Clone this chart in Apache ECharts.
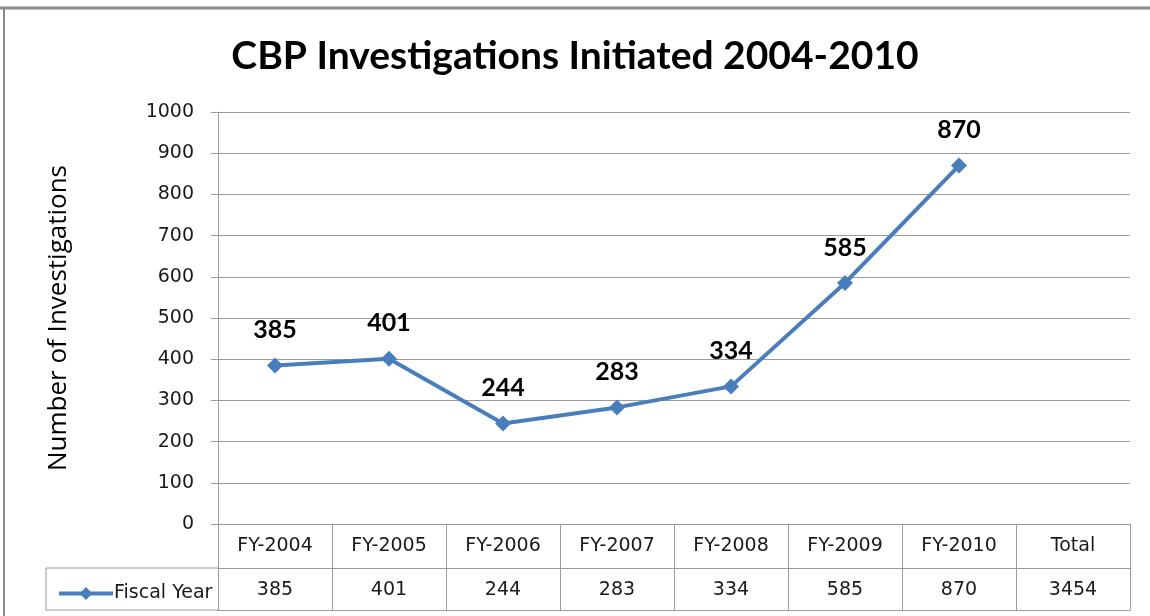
<!DOCTYPE html>
<html>
<head>
<meta charset="utf-8">
<title>CBP Investigations Initiated 2004-2010</title>
<script src="https://cdn.jsdelivr.net/npm/echarts@6/dist/echarts.min.js"></script>
<style>
  html, body { margin: 0; padding: 0; background: #fff; }
  #chart { width: 1150px; height: 616px; }
</style>
</head>
<body>
<div id="chart"></div>
<script>
var categories = ['FY-2004', 'FY-2005', 'FY-2006', 'FY-2007', 'FY-2008', 'FY-2009', 'FY-2010', 'Total'];
var investigations = [385, 401, 244, 283, 334, 585, 870];
var tableRow = ['385', '401', '244', '283', '334', '585', '870', '3454'];
var yTicks = { min: 0, max: 1000, interval: 100 };

var dom = document.getElementById('chart');
var myChart = echarts.init(dom);

var titleFont = 'Lato, "Open Sans", sans-serif';
var tableFont = '"DejaVu Sans", Verdana, sans-serif';
var gridCol = '#9a9a9a';
var blue = '#4a7ebb';

var option = {
    backgroundColor: '#fff',
    animation: false,
    title: {
        text: 'CBP Investigations Initiated 2004-2010',
        left: 'center',
        top: 32,
        textStyle: { fontFamily: titleFont, fontSize: 39, fontWeight: 'bold', color: '#000' }
    },
    legend: {
        left: 52,
        top: 579,
        itemWidth: 54,
        itemHeight: 16,
        itemGap: 2,
        lineStyle: { width: 4, color: blue },
        textStyle: { fontFamily: tableFont, fontSize: 19, color: '#1a1a1a', padding: [0, 0, 0, -4] },
        data: ['Fiscal Year']
    },
    grid: { left: 218, right: 20, top: 112, bottom: 92, containLabel: false },
    xAxis: [
        {
            type: 'category',
            data: categories,
            boundaryGap: true,
            axisLine: { lineStyle: { color: gridCol, width: 1 } },
            axisTick: { show: true, length: 86, interval: 0, lineStyle: { color: gridCol } },
            axisLabel: { interval: 0, margin: 13, fontFamily: tableFont, fontSize: 19, color: '#1a1a1a' }
        },
        {
            type: 'category',
            data: tableRow,
            position: 'bottom',
            offset: 44,
            axisLine: { show: true, lineStyle: { color: gridCol, width: 1 } },
            axisTick: { show: false },
            axisLabel: { interval: 0, margin: 13, fontFamily: tableFont, fontSize: 19, color: '#1a1a1a' }
        },
        {
            type: 'category',
            data: categories,
            position: 'bottom',
            offset: 86,
            axisLine: { show: true, lineStyle: { color: gridCol, width: 1 } },
            axisTick: { show: false },
            axisLabel: { show: false }
        }
    ],
    yAxis: {
        type: 'value',
        min: yTicks.min,
        max: yTicks.max,
        interval: yTicks.interval,
        name: 'Number of Investigations',
        nameLocation: 'middle',
        nameRotate: 90,
        nameGap: 146,
        nameTextStyle: { fontFamily: '"Open Sans", sans-serif', fontSize: 26, color: '#000' },
        axisLine: { show: true, lineStyle: { color: gridCol } },
        axisTick: { show: true, length: 7, lineStyle: { color: gridCol } },
        axisLabel: {
            margin: 24,
            fontFamily: tableFont,
            fontSize: 19,
            color: '#1a1a1a',
            formatter: function (v) { return String(v); }
        },
        splitLine: { lineStyle: { color: gridCol, width: 1 } }
    },
    graphic: [
        { type: 'line', shape: { x1: 0, y1: 8, x2: 1150, y2: 8 }, style: { stroke: '#8a8a8a', lineWidth: 3 } },
        { type: 'line', shape: { x1: 4, y1: 8, x2: 4, y2: 616 }, style: { stroke: '#8a8a8a', lineWidth: 2 } },
        { type: 'line', shape: { x1: 46, y1: 568, x2: 218, y2: 568 }, style: { stroke: gridCol, lineWidth: 1 } },
        { type: 'line', shape: { x1: 46, y1: 610, x2: 218, y2: 610 }, style: { stroke: gridCol, lineWidth: 1 } },
        { type: 'line', shape: { x1: 46, y1: 568, x2: 46, y2: 610 }, style: { stroke: gridCol, lineWidth: 1 } }
    ],
    series: [
        {
            name: 'Fiscal Year',
            type: 'line',
            xAxisIndex: 0,
            data: investigations,
            symbol: 'diamond',
            symbolSize: 16,
            lineStyle: { color: blue, width: 4 },
            itemStyle: { color: blue },
            label: {
                show: true,
                position: 'top',
                distance: 15,
                fontFamily: titleFont,
                fontSize: 25,
                fontWeight: 'bold',
                color: '#000'
            }
        }
    ]
};

if (option && typeof option === 'object') {
    myChart.setOption(option, true);
}
</script>
</body>
</html>
